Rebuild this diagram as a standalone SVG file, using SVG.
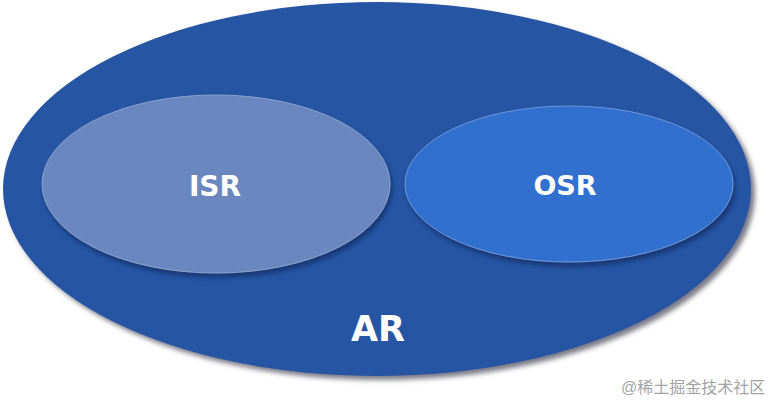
<svg xmlns="http://www.w3.org/2000/svg" width="783" height="410" viewBox="0 0 783 410">
  <defs>
    <filter id="shadow" x="-10%" y="-10%" width="125%" height="130%">
      <feGaussianBlur in="SourceAlpha" stdDeviation="2.5"/>
      <feOffset dx="4" dy="4" result="b"/>
      <feFlood flood-color="#5a5a6a" flood-opacity="0.8"/>
      <feComposite in2="b" operator="in"/>
      <feMerge><feMergeNode/><feMergeNode in="SourceGraphic"/></feMerge>
    </filter>
    <filter id="inner" x="-10%" y="-10%" width="125%" height="130%">
      <feGaussianBlur in="SourceAlpha" stdDeviation="2"/>
      <feOffset dx="2" dy="4" result="b"/>
      <feFlood flood-color="#102a60" flood-opacity="0.7"/>
      <feComposite in2="b" operator="in"/>
      <feMerge><feMergeNode/><feMergeNode in="SourceGraphic"/></feMerge>
    </filter>
  </defs>
  <style>
    .lbl { font-family: "Comic Sans MS", "DejaVu Sans", sans-serif; font-weight: bold; fill: #ffffff; text-anchor: middle; }
    .wm { font-family: "Liberation Sans", "Noto Sans CJK SC", sans-serif; fill: #a3a3a3; font-size: 16px; }
  </style>
  <rect width="783" height="410" fill="#ffffff"/>
  <g id="AR">
    <ellipse cx="377" cy="189" rx="374" ry="187" fill="#2855a3" filter="url(#shadow)"/>
    <text class="lbl" x="378" y="341" font-size="35">AR</text>
  </g>
  <g id="ISR">
    <ellipse cx="216" cy="184" rx="174" ry="89" fill="#6a87bf" stroke="#8aa2d0" stroke-width="1" filter="url(#inner)"/>
    <text class="lbl" x="215" y="196" font-size="28">ISR</text>
  </g>
  <g id="OSR">
    <ellipse cx="569" cy="184" rx="164" ry="78" fill="#3370cf" stroke="#6d97dc" stroke-width="1" filter="url(#inner)"/>
    <text class="lbl" x="565" y="195" font-size="27">OSR</text>
  </g>
  <g id="connectors"></g>
  <text class="wm" x="621" y="393">@稀土掘金技术社区</text>
</svg>
